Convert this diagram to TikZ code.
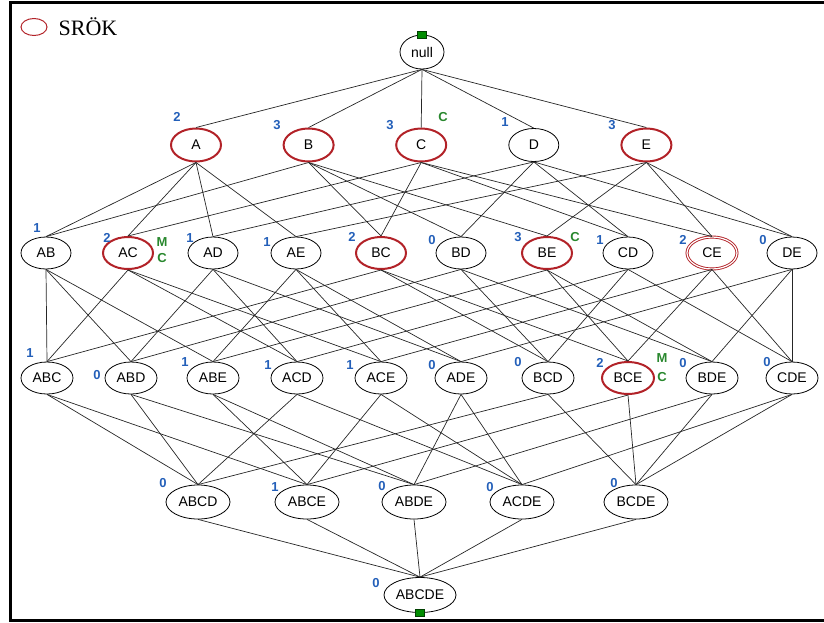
\documentclass[tikz,border=0pt]{standalone}
\usepackage{fontspec}
\setmainfont{Liberation Serif}
\setsansfont{Liberation Sans}
\usepackage{xcolor}
\usepackage{tikz}
\usetikzlibrary{shapes,positioning}

\definecolor{ringred}{RGB}{178,34,40}
\definecolor{supblue}{RGB}{35,95,185}
\definecolor{tagreen}{RGB}{40,135,45}

\begin{document}
\begin{tikzpicture}[x=1pt, y=-1pt,
    item/.style={draw, ellipse, inner sep=0pt, minimum height=32, font=\sffamily\fontsize{14}{14}\selectfont, line width=0.8},
    freq/.style={item, draw=ringred, line width=2},
    freqd/.style={item, draw=ringred, line width=0.9, double=white, double distance=1.2},
    sup/.style={inner sep=0pt, text=supblue, font=\sffamily\bfseries\fontsize{13}{13}\selectfont},
    tag/.style={inner sep=0pt, text=tagreen, font=\sffamily\bfseries\fontsize{13}{13}\selectfont},
    link/.style={line width=0.7, black!85},
    port/.style={draw=green!25!black, fill=green!55!black, minimum width=9, minimum height=7, inner sep=0pt}]

\useasboundingbox (0,0) rectangle (824,622);

% frame, open on the right
\draw[line width=3] (830,2.5) -- (10.5,2.5) -- (10.5,620) -- (830,620);

% legend
\node[draw=ringred, line width=1, ellipse, minimum width=26, minimum height=17, inner sep=0pt] (key) at (34,27) {};
\node[right=11pt of key, font=\fontsize{22}{22}\selectfont, inner sep=0pt] (keytext) {SRÖK};

% itemsets
\node[item, minimum width=44, minimum height=34] (null) at (422,52) {null};
\node[port] (top) at (null.north) {};

\foreach \n/\x in {A/196,B/308.6,C/421.2,E/646.4}
    \node[freq, minimum width=50, minimum height=33] (\n) at (\x,145) {\n};
\node[item, minimum width=50, minimum height=33] (D) at (533.8,145) {D};

\foreach \n/\x in {AB/46,AD/213,AE/296,BD/461,CD/628,DE/792}
    \node[item, minimum width=50] (\n) at (\x,253) {\n};
\foreach \n/\x in {AC/128,BC/381,BE/547}
    \node[freq, minimum width=50] (\n) at (\x,253) {\n};
\node[freqd, minimum width=50] (CE) at (712,253) {CE};

\foreach \n/\x in {ABC/47,ABD/131,ABE/213,ACD/297,ACE/381,ADE/461,BCD/548,BDE/712,CDE/792}
    \node[item, minimum width=52] (\n) at (\x,378) {\n};
\node[freq, minimum width=52] (BCE) at (628,378) {BCE};

\foreach \n/\x in {ABCD/198,ABCE/307,ABDE/414,ACDE/522,BCDE/636}
    \node[item, minimum width=64, minimum height=34] (\n) at (\x,502) {\n};

\node[item, minimum width=72, minimum height=35] (ABCDE) at (420,595) {ABCDE};
\node[port] (bottom) at (ABCDE.south) {};

% lattice edges
\foreach \v in {A,B,C,D,E}
    \draw[link] (null.south) -- (\v.north);
\foreach \u/\vs in {A/{AB,AC,AD,AE}, B/{AB,BC,BD,BE}, C/{AC,BC,CD,CE},
                    D/{AD,BD,CD,DE}, E/{AE,BE,CE,DE},
                    AB/{ABC,ABD,ABE}, AC/{ABC,ACD,ACE}, AD/{ABD,ACD,ADE},
                    AE/{ABE,ACE,ADE}, BC/{ABC,BCD,BCE}, BD/{ABD,BCD,BDE},
                    BE/{ABE,BCE,BDE}, CD/{ACD,BCD,CDE}, CE/{ACE,BCE,CDE},
                    DE/{ADE,BDE,CDE},
                    ABC/{ABCD,ABCE}, ABD/{ABCD,ABDE}, ABE/{ABCE,ABDE},
                    ACD/{ABCD,ACDE}, ACE/{ABCE,ACDE}, ADE/{ABDE,ACDE},
                    BCD/{ABCD,BCDE}, BCE/{ABCE,BCDE}, BDE/{ABDE,BCDE},
                    CDE/{ACDE,BCDE}}
    \foreach \v in \vs
        \draw[link] (\u.south) -- (\v.north);
\foreach \u in {ABCD,ABCE,ABDE,ACDE,BCDE}
    \draw[link] (\u.south) -- (ABCDE.north);

% support counts
\foreach \n/\x/\y/\t in {A/177/117/2, B/277/125/3, C/390/125/3, D/505/122/1, E/612/125/3,
        AB/37/228/1, AC/107/238/2, AD/190/238/1, AE/267/242/1, BC/352/237/2,
        BD/432/240/0, BE/518/237/3, CD/600/240/1, CE/683/240/2, DE/763/240/0,
        ABC/30/353/1, ABD/97/375/0, ABE/185/362/1, ACD/268/365/1, ACE/350/365/1,
        ADE/432/365/0, BCD/518/362/0, BCE/600/363/2, BDE/683/363/0, CDE/767/362/0,
        ABCD/163/483/0, ABCE/275/487/1, ABDE/382/486/0, ACDE/490/487/0, BCDE/614/483/0,
        ABCDE/376/583/0}
    \node[sup] (s\n) at (\x,\y) {\t};

% closed / maximal marks
\node[tag] (cC) at (443,117) {C};
\node[tag] (mAC) at (162,242) {M};
\node[tag] (cAC) at (162,258) {C};
\node[tag] (cBE) at (575,237) {C};
\node[tag] (mBCE) at (662,358) {M};
\node[tag] (cBCE) at (662,377) {C};
\end{tikzpicture}
\end{document}
